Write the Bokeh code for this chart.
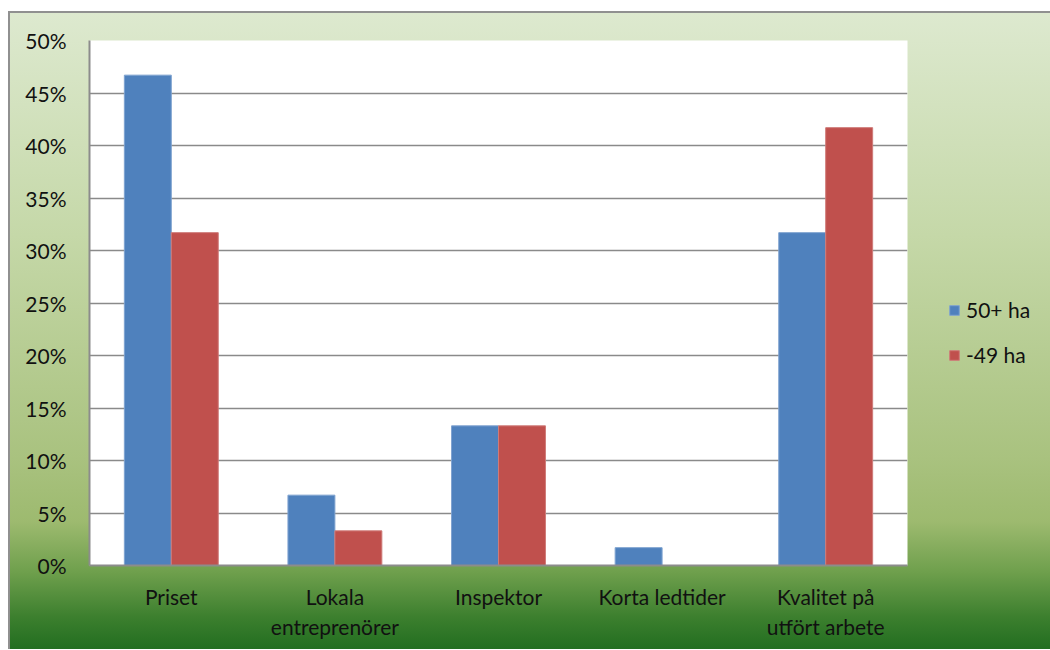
from bokeh.plotting import figure
from bokeh.models import (ColumnDataSource, FactorRange, Range1d, Legend, LegendItem,
                          NumeralTickFormatter, SingleIntervalTicker)
from bokeh.transform import dodge
from bokeh.embed import file_html
from bokeh.resources import INLINE

categories = ["Priset", "Lokala\nentreprenörer", "Inspektor", "Korta ledtider", "Kvalitet på\nutfört arbete"]
series_names = ["50+ ha", "-49 ha"]
values_50plus = [0.467, 0.067, 0.133, 0.017, 0.317]
values_49 = [0.317, 0.033, 0.133, 0.0, 0.417]
colors = ["#4F81BD", "#C0504D"]

source = ColumnDataSource(dict(cat=categories, a=values_50plus, b=values_49))

FONT = "Lato"

p = figure(x_range=FactorRange(*categories), y_range=Range1d(0, 0.5),
           frame_width=818, frame_height=525, output_backend="svg", toolbar_location=None,
           min_border_left=79, min_border_top=27, min_border_right=142, min_border_bottom=84)
p.styles = {"background": "linear-gradient(to bottom, #DDE9CF 0%, #C5D8A8 35%, #A9C27F 70%, #9DBA6F 80%, #6E9F4C 88%, #3C7F2E 95%, #226E20 100%)",
            "border-top": "2px solid #909090", "border-left": "2px solid #909090",
            "margin-left": "8px", "margin-top": "11px"}
p.border_fill_color = None
p.background_fill_color = "white"
p.outline_line_color = None

w = 0.287
r1 = p.vbar(x=dodge("cat", -w / 2, range=p.x_range), top="a", width=w, source=source,
            fill_color=colors[0], line_color="#7FA3D0", line_width=1)
r2 = p.vbar(x=dodge("cat", w / 2, range=p.x_range), top="b", width=w, source=source,
            fill_color=colors[1], line_color="#CF7B78", line_width=1)

p.yaxis.ticker = SingleIntervalTicker(interval=0.05)
p.yaxis.formatter = NumeralTickFormatter(format="0%")
p.ygrid.ticker = SingleIntervalTicker(interval=0.05)
p.ygrid.grid_line_color = "#8A8A8A"
p.ygrid.grid_line_width = 1.6
p.xgrid.grid_line_color = None

for ax in (p.xaxis, p.yaxis):
    ax.major_tick_line_color = None
    ax.minor_tick_line_color = None
    ax.axis_line_color = "#8C8C8C"
    ax.axis_line_width = 2
    ax.major_label_text_font = FONT
    ax.major_label_text_font_size = "21px"
    ax.major_label_text_color = "#111111"

p.yaxis.major_label_standoff = 17
p.xaxis.major_label_standoff = 12

legend = Legend(items=[LegendItem(label=series_names[0], renderers=[r1]),
                       LegendItem(label=series_names[1], renderers=[r2])],
                location=(41, 198), orientation="vertical")
legend.background_fill_alpha = 0
legend.border_line_color = None
legend.label_text_font = FONT
legend.label_text_font_size = "21px"
legend.label_text_color = "#111111"
legend.glyph_width = 12
legend.glyph_height = 12
legend.spacing = 20
legend.label_standoff = 6
p.add_layout(legend, "right")

open("out.html", "w").write(file_html(p, INLINE))
